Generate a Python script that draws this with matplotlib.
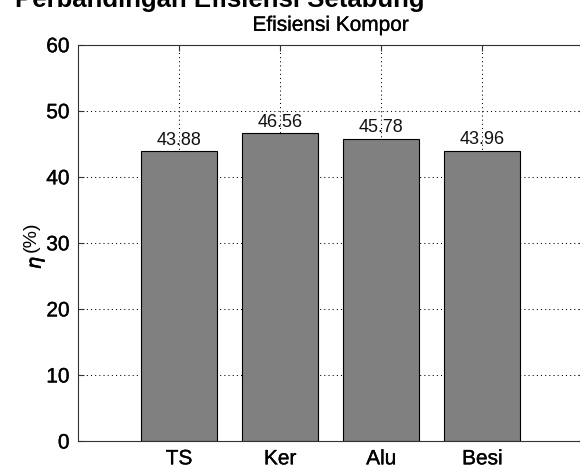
import matplotlib
matplotlib.use("Agg")
import matplotlib.pyplot as plt
import matplotlib.patheffects as pe

categories = ["TS", "Ker", "Alu", "Besi"]
efficiency = [43.88, 46.56, 45.78, 43.96]
value_labels = ["43.88", "46.56", "45.78", "43.96"]
yticks = [0, 10, 20, 30, 40, 50, 60]

plt.rcParams['font.family'] = ['Liberation Sans', 'DejaVu Sans']

fig = plt.figure(figsize=(5.8, 4.7), dpi=100)
W, H = 580, 470
left, right, top, bottom = 78, 583.5, 44.7, 441
ax = fig.add_axes([left / W, (H - bottom) / H, (right - left) / W, (bottom - top) / H])

x = list(range(1, len(categories) + 1))
ax.bar(x, efficiency, width=0.75, color="#808080", edgecolor="black", linewidth=0.8, zorder=2)
for xi, v, lab in zip(x, efficiency, value_labels):
    ax.text(xi, v + 1.0, lab, ha="center", va="baseline", fontsize=13, color="#111111", zorder=3)

ax.set_xlim(0, 5)
ax.set_ylim(0, 60)
ax.set_xticks(x)
ax.set_xticklabels(categories)
ax.set_yticks(yticks)
ax.tick_params(axis="both", direction="in", length=4, width=0.8, labelsize=15, top=True, right=True, color="#333333", pad=6)
bold_fx = [pe.withStroke(linewidth=0.25, foreground="black")]
for lab in ax.get_xticklabels() + ax.get_yticklabels():
    lab.set_path_effects(bold_fx)
ax.set_axisbelow(True)
ax.grid(True, color="black", linestyle=(0, (1, 3)), linewidth=0.75)
for s in ax.spines.values():
    s.set_color("#333333")
    s.set_linewidth(0.8)

t = ax.set_title("Efisiensi Kompor", fontsize=15, pad=10)
t.set_path_effects([pe.withStroke(linewidth=0.2, foreground="black")])

# y-axis label: eta followed by (%)
fig.text(35 / W, 1 - 263 / H, "η", fontsize=14, fontstyle="italic",
         family=["DejaVu Sans"], rotation=90, ha="center", va="center",
         path_effects=[pe.withStroke(linewidth=0.5, foreground="black")])
fig.text(31 / W, 1 - 237 / H, "(%)", fontsize=14, rotation=90, ha="center", va="center")

fig.text(15 / W, 1 - 7.5 / H, "Perbandingan Efisiensi Setabung", fontsize=18.5, fontweight="bold", ha="left", va="baseline")

fig.savefig("out.png", dpi=100)
